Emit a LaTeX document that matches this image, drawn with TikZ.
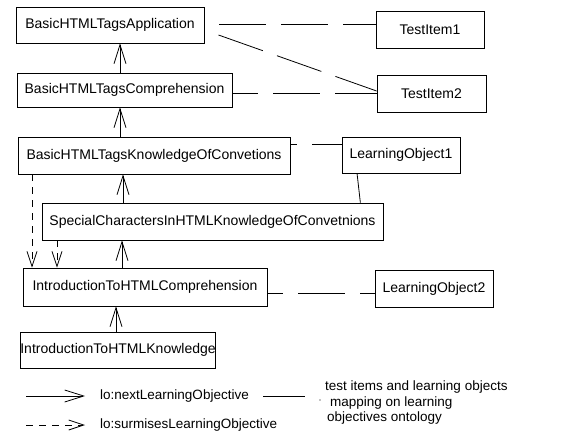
\documentclass[tikz,border=0pt]{standalone}
\usepackage{fontspec}
\setmainfont{Liberation Sans}
\usetikzlibrary{arrows.meta,calc}
\begin{document}
\begin{tikzpicture}[x=1pt,y=-1pt,
  box/.style={draw,line width=0.8pt,inner sep=0pt,font=\fontsize{14}{16}\selectfont,anchor=center},
  legtext/.style={inner sep=0pt,font=\fontsize{13.5}{15}\selectfont,anchor=west},
  nx/.style={line width=0.8pt,-{Straight Barb[length=19pt,width=12pt,line width=0.8pt]}},
  sx/.style={line width=0.8pt,dash pattern=on 7pt off 6pt,-{Straight Barb[length=15pt,width=10pt,line width=0.8pt]}},
  lnk/.style={line width=0.8pt,dash pattern=on 47pt off 15pt}]
\useasboundingbox (0,0) rectangle (566,432);
% nodes
\node[box,minimum width=188pt,minimum height=36pt] (app) at (110,25) {BasicHTMLTagsApplication};
\node[box,minimum width=215pt,minimum height=34pt] (comp) at (124.5,90) {BasicHTMLTagsComprehension};
\node[box,minimum width=272pt,minimum height=37pt] (know) at (154,155.5) {BasicHTMLTagsKnowledgeOfConvetions};
\node[box,minimum width=341pt,minimum height=37pt] (spec) at (212.5,221.5) {SpecialCharactersInHTMLKnowledgeOfConvetnions};
\node[box,minimum width=244pt,minimum height=38pt] (icomp) at (145,287) {IntroductionToHTMLComprehension};
\node[box,minimum width=190pt,minimum height=36pt] (iknow) at (118,350) {IntroductionToHTMLKnowledge};
\node[box,minimum width=108pt,minimum height=37pt] (ti1) at (430,29.5) {TestItem1};
\node[box,minimum width=109pt,minimum height=37pt] (ti2) at (431.5,93.5) {TestItem2};
\node[box,minimum width=118pt,minimum height=36pt] (lo1) at (401,155) {LearningObject1};
\node[box,minimum width=118pt,minimum height=37pt] (lo2) at (434,288.5) {LearningObject2};
% x positions of arrows
\coordinate (x120) at (120,0);
\coordinate (x123) at (123,0);
\coordinate (x122) at (122,0);
\coordinate (x116) at (116,0);
\coordinate (x32) at (32,0);
\coordinate (x57) at (57,0);
% next arrows
\draw[nx] (comp.north -| x120) -- (app.south -| x120);
\draw[nx] (know.north -| x120) -- (comp.south -| x120);
\draw[nx] (spec.north -| x123) -- (know.south -| x123);
\draw[nx] (icomp.north -| x122) -- (spec.south -| x122);
\draw[nx] (iknow.north -| x116) -- (icomp.south -| x116);
% surmises arrows
\draw[sx] (know.south -| x32) -- (icomp.north -| x32);
\draw[sx] (spec.south -| x57) -- (icomp.north -| x57);
% mapping links
\draw[lnk,dash phase=47pt] ([yshift=1pt]app.east) -- ([yshift=1pt]app.east -| ti1.west);
\draw[lnk,dash phase=47pt] ([yshift=-5pt]app.east) -- ([yshift=2.5pt]ti2.west);
\draw[lnk,dash phase=21pt] (comp.east |- ti2.west) -- (ti2.west);
\draw[lnk,dash phase=40pt] ([yshift=11pt]know.east) -- ([yshift=11pt]know.east -| lo1.west);
\draw[lnk] ($(lo1.south west)!0.13!(lo1.south east)$) -- ($(spec.north west)!0.9326!(spec.north east)$);
\draw[lnk,dash phase=31pt] ([yshift=-6pt]icomp.east) -- ([yshift=-6pt]icomp.east -| lo2.west);
% legend
\node[legtext] (l1t) at (100,396) {lo:nextLearningObjective};
\node[legtext] (l2t) at (100,425) {lo:surmisesLearningObjective};
\coordinate (l1s) at (26,396);
\coordinate (l2s) at (26,425);
\draw[nx] (l1s) -- ([xshift=-15pt]l1t.west);
\draw[sx] (l2s) -- ([xshift=-15pt]l2t.west);
\coordinate (m1) at (263,396);
\coordinate (m2) at (305,396);
\draw[line width=0.8pt] (m1) -- (m2);
\fill (320,400) circle (0.7pt);
\node[legtext] (d1) at (325,387) {test items and learning objects};
\node[legtext] (d2) at (330,403) {mapping on learning};
\node[legtext] (d3) at (327,418) {objectives ontology};
\end{tikzpicture}
\end{document}
